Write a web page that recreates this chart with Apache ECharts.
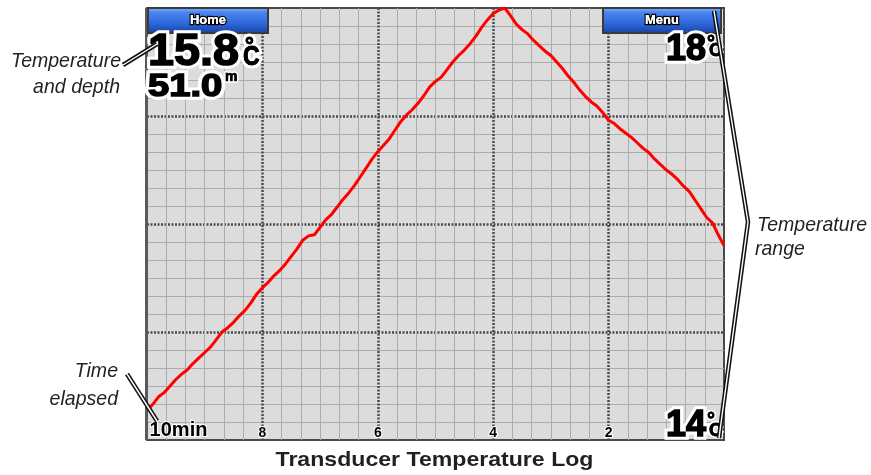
<!DOCTYPE html>
<html>
<head>
<meta charset="utf-8">
<title>Transducer Temperature Log</title>
<script src="https://cdn.jsdelivr.net/npm/echarts@6/dist/echarts.min.js"></script>
<style>
  html, body { margin: 0; padding: 0; background: #fff; }
  #chart { width: 871px; height: 475px; }
</style>
</head>
<body>
<div id="chart"></div>
<script>
// Elapsed time (minutes before now) and logged water temperature (°C)
const minutes = [
  10.0, 9.9, 9.8, 9.7, 9.6, 9.5, 9.4, 9.3, 9.2, 9.1,
  9.0, 8.9, 8.8, 8.7, 8.6, 8.5, 8.4, 8.3, 8.2, 8.1,
  8.0, 7.9, 7.8, 7.7, 7.6, 7.5, 7.4, 7.3, 7.2, 7.1,
  7.0, 6.9, 6.8, 6.7, 6.6, 6.5, 6.4, 6.3, 6.2, 6.1,
  6.0, 5.9, 5.8, 5.7, 5.6, 5.5, 5.4, 5.3, 5.2, 5.1,
  5.0, 4.9, 4.8, 4.7, 4.6, 4.5, 4.4, 4.3, 4.2, 4.1,
  4.0, 3.9, 3.8, 3.7, 3.6, 3.5, 3.4, 3.3, 3.2, 3.1,
  3.0, 2.9, 2.8, 2.7, 2.6, 2.5, 2.4, 2.3, 2.2, 2.1,
  2.0, 1.9, 1.8, 1.7, 1.6, 1.5, 1.4, 1.3, 1.2, 1.1,
  1.0, 0.9, 0.8, 0.7, 0.6, 0.5, 0.4, 0.3, 0.2, 0.1,
  0.0
];
const temperatures = [
  14.27, 14.33, 14.40, 14.44, 14.50, 14.56, 14.61, 14.65, 14.71, 14.76,
  14.81, 14.86, 14.93, 15.00, 15.04, 15.09, 15.15, 15.20, 15.27, 15.35,
  15.41, 15.46, 15.52, 15.57, 15.63, 15.70, 15.77, 15.85, 15.89, 15.90,
  15.97, 16.04, 16.09, 16.16, 16.23, 16.29, 16.36, 16.44, 16.52, 16.60,
  16.67, 16.73, 16.79, 16.87, 16.95, 17.01, 17.06, 17.12, 17.19, 17.27,
  17.32, 17.36, 17.43, 17.50, 17.56, 17.61, 17.67, 17.74, 17.82, 17.89,
  17.95, 17.98, 18.00, 17.93, 17.85, 17.80, 17.76, 17.70, 17.65, 17.60,
  17.56, 17.50, 17.44, 17.37, 17.31, 17.24, 17.18, 17.13, 17.09, 17.03,
  16.96, 16.93, 16.88, 16.84, 16.80, 16.75, 16.70, 16.66, 16.60, 16.55,
  16.50, 16.46, 16.41, 16.35, 16.30, 16.22, 16.14, 16.06, 16.01, 15.90,
  15.80
];

// Time axis labels and the temperature range shown on screen
const timeTickValues = [10, 8, 6, 4, 2];
const timeTickLabels = ['10min', '8', '6', '4', '2'];
const rangeMax = 18;
const rangeMin = 14;
const depthMeters = 51.0;

const seriesData = minutes.map((m, i) => [m, temperatures[i]]);
const currentTemp = temperatures[temperatures.length - 1];

const SANS = '"Liberation Sans", Arial, sans-serif';
const chart = echarts.init(document.getElementById('chart'), null, { renderer: 'canvas' });

function textEl(text, x, y, size, opts, fill, stroke, lineWidth) {
  return {
    type: 'text', z: opts.z || 105, x: x, y: y,
    scaleX: opts.scaleX || 1,
    style: {
      text: text, x: 0, y: 0,
      font: 'bold ' + size + 'px ' + SANS,
      fill: fill, stroke: stroke, lineWidth: lineWidth,
      align: opts.align || 'left',
      verticalAlign: 'middle'
    }
  };
}

// Bold screen readout: a white halo underneath, a heavier black glyph on top
function outlined(text, x, y, size, opts) {
  opts = opts || {};
  const halo = opts.halo == null ? 3 : opts.halo;
  const weight = opts.weight || 0;
  const fill = opts.fill || '#000';
  const haloColor = opts.stroke || '#fff';
  const els = [textEl(text, x, y, size, Object.assign({}, opts, { z: 104 }), fill, haloColor, halo * 2 + weight)];
  els.push(textEl(text, x, y, size, Object.assign({}, opts, { z: 105 }), fill, weight ? fill : null, weight));
  return els;
}

function note(text, x, y, align) {
  return {
    type: 'text', z: 105, x: x, y: y, scaleX: 0.93,
    style: {
      text: text, x: 0, y: 0,
      font: 'italic 21px ' + SANS,
      fill: '#231f20',
      align: align,
      verticalAlign: 'middle'
    }
  };
}

function leader(points) {
  return [
    { type: 'polyline', z: 110, shape: { points: points },
      style: { stroke: '#111', lineWidth: 4.5, fill: null, lineJoin: 'miter' } },
    { type: 'polyline', z: 111, shape: { points: points },
      style: { stroke: '#fff', lineWidth: 1.4, fill: null, lineJoin: 'miter' } }
  ];
}

function button(x, w, label) {
  return [
    { type: 'rect', z: 100,
      shape: { x: x, y: 8, width: w, height: 25 },
      style: {
        fill: new echarts.graphic.LinearGradient(0, 0, 0, 1, [
          { offset: 0, color: '#8fb6fa' },
          { offset: 0.2, color: '#4a86ee' },
          { offset: 0.6, color: '#2d68dc' },
          { offset: 1, color: '#1a3f9c' }
        ]),
        stroke: '#3a3a3a', lineWidth: 2
      } }
  ].concat(outlined(label, x + w / 2, 20.5, 13, { fill: '#fff', stroke: '#000', halo: 1.3, align: 'center' }));
}

const graphics = [].concat(
  button(148, 120, 'Home'),
  button(603, 118, 'Menu'),
  // current temperature and depth
  outlined(currentTemp.toFixed(1), 148, 53, 45, { scaleX: 1.04, weight: 1.5 }),
  outlined('°', 245, 47, 22, { weight: 1 }),
  outlined('C', 243, 57.5, 27, { scaleX: 0.85, weight: 1 }),
  outlined(depthMeters.toFixed(1), 148, 87, 31, { scaleX: 1.23, weight: 1.5 }),
  outlined('m', 225, 77.5, 14, { halo: 1.5, weight: 0.6 }),
  // temperature range
  outlined(String(rangeMax), 666, 50.5, 36, { weight: 1.5 }),
  outlined('°', 707, 43, 20, { halo: 1.5, weight: 0.8 }),
  outlined('C', 709, 51.5, 18, { halo: 1.5, weight: 0.8 }),
  outlined(String(rangeMin), 666, 426.5, 36, { weight: 1.5 }),
  outlined('°', 707, 420, 20, { halo: 1.5, weight: 0.8 }),
  outlined('C', 709, 431.5, 18, { halo: 1.5, weight: 0.8 }),
  [
    // callouts
    note('Temperature', 121, 61.5, 'right'),
    note('and depth', 120, 87, 'right'),
    note('Time', 118, 371.5, 'right'),
    note('elapsed', 118, 399, 'right'),
    note('Temperature', 757, 225.5, 'left'),
    note('range', 755, 249.5, 'left'),
    {
      type: 'text', z: 105, x: 434.5, y: 460.5, scaleX: 1.1,
      style: {
        text: 'Transducer Temperature Log', x: 0, y: 0,
        font: 'bold 21px ' + SANS, fill: '#231f20',
        align: 'center', verticalAlign: 'middle'
      }
    },
    // heavier left edge of the screen frame
    { type: 'line', z: 50, shape: { x1: 146.5, y1: 8, x2: 146.5, y2: 440 },
      style: { stroke: '#5a5a5a', lineWidth: 3 } }
  ],
  leader([[123, 65], [157, 44]]),
  leader([[127, 374], [157, 421]]),
  leader([[714, 11], [748, 222], [719, 438]])
);

const majorLine = { color: '#4a4a4a', width: 2.5, type: [2, 1.5] };
const minorLine = { color: '#acacac', width: 1 };

const option = {
  animation: false,
  backgroundColor: '#ffffff',
  grid: {
    left: 147, right: 147, top: 8, bottom: 35,
    show: true,
    backgroundColor: '#dcdcdc',
    borderColor: '#4a4a4a',
    borderWidth: 2
  },
  xAxis: {
    type: 'value',
    min: 0, max: 10, interval: 2,
    inverse: true,
    axisLine: { show: false },
    axisTick: { show: false },
    axisLabel: {
      inside: true,
      margin: 0,
      formatter: function (v) {
        const i = timeTickValues.indexOf(v);
        if (i < 0) return '';
        return i === 0 ? '{first|' + timeTickLabels[i] + '}' : '{tick|' + timeTickLabels[i] + '}';
      },
      rich: {
        first: {
          fontFamily: SANS, fontWeight: 'bold', fontSize: 20, color: '#000',
          textBorderColor: '#fff', textBorderWidth: 2, padding: [0, 0, 0, 63]
        },
        tick: {
          fontFamily: SANS, fontWeight: 'bold', fontSize: 14, color: '#000',
          textBorderColor: '#fff', textBorderWidth: 2
        }
      }
    },
    splitLine: { show: true, showMinLine: false, showMaxLine: false, lineStyle: majorLine },
    minorTick: { show: false, splitNumber: 6 },
    minorSplitLine: { show: true, lineStyle: minorLine }
  },
  yAxis: {
    type: 'value',
    min: rangeMin, max: rangeMax, interval: 1,
    axisLine: { show: false },
    axisTick: { show: false },
    axisLabel: { show: false },
    splitLine: { show: true, showMinLine: false, showMaxLine: false, lineStyle: majorLine },
    minorTick: { show: false, splitNumber: 6 },
    minorSplitLine: { show: true, lineStyle: minorLine }
  },
  series: [{
    type: 'line',
    data: seriesData,
    showSymbol: false,
    smooth: false,
    z: 5,
    lineStyle: { color: '#ff0000', width: 3 }
  }],
  graphic: { elements: graphics }
};

chart.setOption(option);
</script>
</body>
</html>
